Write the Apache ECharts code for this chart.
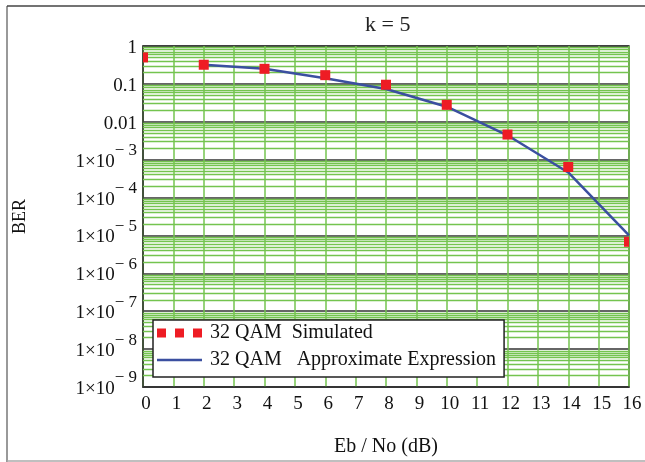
<!DOCTYPE html>
<html>
<head>
<meta charset="utf-8">
<script src="https://cdn.jsdelivr.net/npm/echarts@6/dist/echarts.min.js"></script>
<style>
  html, body { margin: 0; padding: 0; background: #fff; }
  #chart { width: 645px; height: 462px; }
</style>
</head>
<body>
<div id="chart"></div>
<script>
// Eb/No (dB) for the simulated points
var simEbNo = [0, 2, 4, 6, 8, 10, 12, 14, 16];
var simBer = [0.5, 0.32, 0.25, 0.17, 0.095, 0.028, 0.0046, 6.4e-4, 6.8e-6];

// approximate expression curve
var approxEbNo = [2, 4, 6, 8, 10, 12, 14, 16];
var approxBer = [0.32, 0.25, 0.14, 0.073, 0.025, 0.0044, 4.6e-4, 1e-5];

// minor log grid: mantissas inside each decade
var minorMantissa = [2, 3, 4, 5, 6, 7, 8, 9];
var decadeExp = [-1, -2, -3, -4, -5, -6, -7, -8, -9];

var serif = '"Liberation Serif", "DejaVu Serif", serif';
var green = '#74c44f';
var red = '#ee1c24';
var blue = '#3b4fa0';

var minorLines = [];
decadeExp.forEach(function (e) {
  minorMantissa.forEach(function (m) {
    minorLines.push({ yAxis: m * Math.pow(10, e) });
  });
});

function zip(xs, ys) {
  return xs.map(function (x, i) { return [x, ys[i]]; });
}

// square marker, cut by the plot frame like in the original figure
function squareMarker(params, api) {
  var p = api.coord([api.value(0), api.value(1)]);
  var half = 5;
  var r = echarts.graphic.clipRectByRect(
    { x: p[0] - half, y: p[1] - half, width: half * 2, height: half * 2 },
    params.coordSys
  );
  if (!r) return;
  return { type: 'rect', shape: r, style: { fill: red } };
}

var chart = echarts.init(document.getElementById('chart'));

chart.setOption({
  animation: false,
  title: {
    text: 'k = 5',
    left: 360,
    top: 9,
    textStyle: { fontFamily: serif, fontSize: 22, fontWeight: 'normal', color: '#222' }
  },
  graphic: [
    { type: 'line', shape: { x1: 7, y1: 6, x2: 7, y2: 462 }, style: { stroke: '#999', lineWidth: 2 } },
    { type: 'line', shape: { x1: 7, y1: 6, x2: 645, y2: 6 }, style: { stroke: '#444', lineWidth: 1.5 } },
    { type: 'line', shape: { x1: 7, y1: 461, x2: 645, y2: 461 }, style: { stroke: '#aaa', lineWidth: 1.5 } }
  ],
  legend: {
    orient: 'vertical',
    left: 153,
    top: 320,
    z: 10,
    padding: [3, 8, 7, 4],
    backgroundColor: '#fff',
    borderColor: '#222',
    borderWidth: 1.5,
    itemWidth: 45,
    itemHeight: 9,
    itemGap: 7,
    symbolKeepAspect: true,
    textStyle: { fontFamily: serif, fontSize: 20, lineHeight: 20, color: '#111', padding: [0, 0, 0, 3] },
    data: [
      { name: '32 QAM  Simulated', icon: 'path://M0,0h9v9h-9z M18,0h9v9h-9z M36,0h9v9h-9z' },
      { name: '32 QAM   Approximate Expression', icon: 'path://M0,0h45v2.5h-45z' }
    ]
  },
  grid: {
    left: 143,
    right: 16,
    top: 46,
    bottom: 73,
    show: true,
    borderColor: '#333',
    borderWidth: 1.5
  },
  xAxis: {
    type: 'value',
    min: 0,
    max: 16,
    interval: 1,
    name: 'Eb / No (dB)',
    nameLocation: 'middle',
    nameGap: 50,
    nameTextStyle: { fontFamily: serif, fontSize: 20, color: '#111' },
    axisLine: { lineStyle: { color: '#333', width: 1.5 } },
    axisTick: { show: false },
    axisLabel: { fontFamily: serif, fontSize: 19, color: '#111', margin: 8, padding: [0, 0, 0, 6] },
    splitLine: { show: true, lineStyle: { color: green, width: 1.5 } }
  },
  yAxis: {
    type: 'log',
    logBase: 10,
    min: 1e-9,
    max: 1,
    interval: 1,
    name: 'BER',
    nameLocation: 'middle',
    nameGap: 114,
    nameTextStyle: { fontFamily: serif, fontSize: 18, color: '#111' },
    axisLine: { show: true, lineStyle: { color: '#333', width: 1.5 } },
    axisTick: { show: false },
    axisLabel: {
      margin: 6,
      formatter: function (v) {
        var e = Math.round(Math.log10(v));
        if (e === 0) return '{b|1}';
        if (e === -1) return '{b|0.1}';
        if (e === -2) return '{b|0.01}';
        return '{b|1×10}{s|− ' + (-e) + '}';
      },
      rich: {
        b: { fontFamily: serif, fontSize: 19, color: '#111', padding: [4, 0, 0, 0] },
        s: { fontFamily: serif, fontSize: 17, color: '#111', padding: [0, 0, 18, 0] }
      }
    },
    splitLine: { show: true, lineStyle: { color: '#333', width: 1.5 } }
  },
  series: [
    {
      name: 'minor',
      type: 'line',
      z: 1,
      silent: true,
      data: zip(approxEbNo, approxBer),
      showSymbol: false,
      lineStyle: { width: 0, opacity: 0 },
      markLine: {
        silent: true,
        z: 1,
        precision: 15,
        symbol: ['none', 'none'],
        label: { show: false },
        lineStyle: { type: 'solid', color: green, width: 1.3 },
        data: minorLines
      }
    },
    {
      name: '32 QAM   Approximate Expression',
      type: 'line',
      z: 3,
      data: zip(approxEbNo, approxBer),
      symbol: 'none',
      color: blue,
      itemStyle: { color: blue },
      lineStyle: { width: 2.5, color: blue }
    },
    {
      name: '32 QAM  Simulated',
      type: 'custom',
      z: 4,
      data: zip(simEbNo, simBer),
      encode: { x: 0, y: 1 },
      itemStyle: { color: red },
      renderItem: squareMarker
    }
  ]
});
</script>
</body>
</html>
